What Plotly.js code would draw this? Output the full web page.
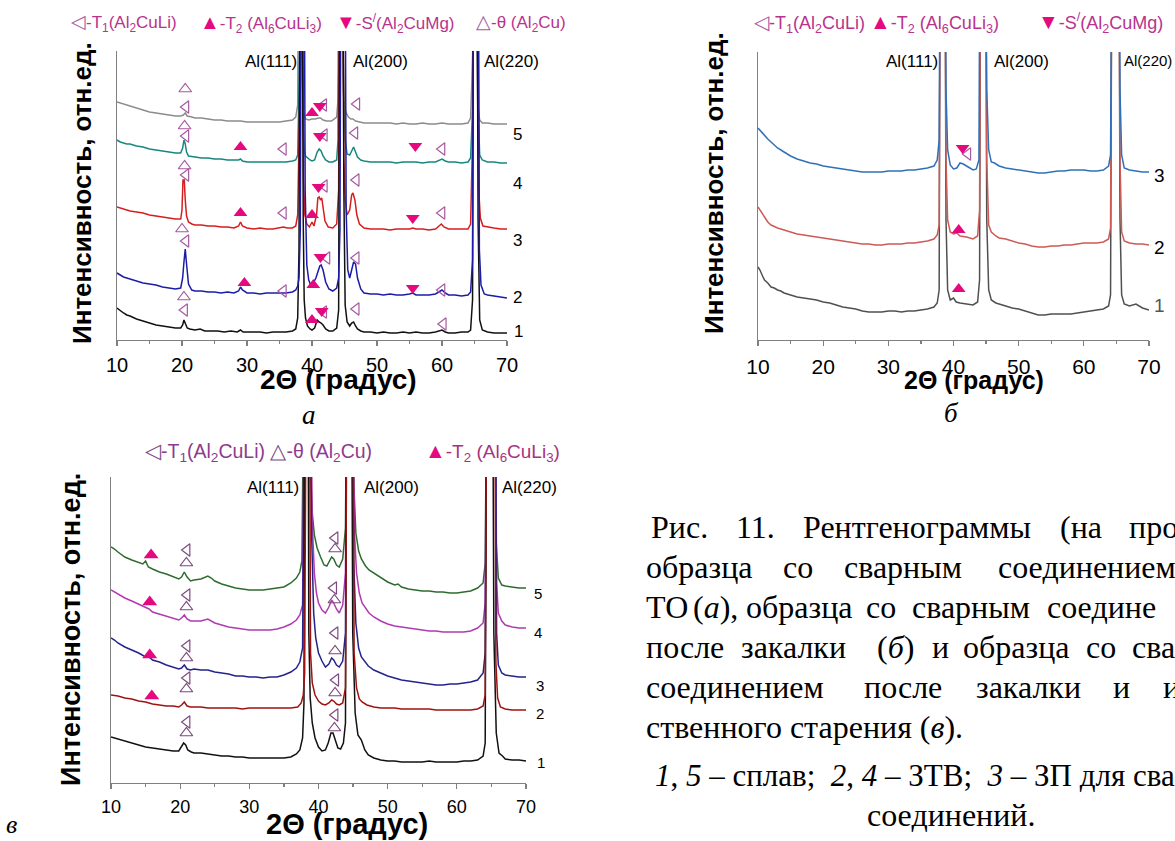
<!DOCTYPE html>
<html><head><meta charset="utf-8">
<script src="https://cdn.plot.ly/plotly-3.0.1.min.js"></script>
<style>html,body{margin:0;padding:0;overflow:hidden;background:#fff}</style>
</head><body><div id="chart" style="width:1175px;height:841px"></div>
<script>
// ---------- DATA (2θ in degrees, intensity in arbitrary offset units) ----------
const xTicks = [10,20,30,40,50,60,70];
const xTickText = ['10','20','30','40','50','60','70'];

// Panel а : curves 1..5
const a_c1 = [[10,32],[10.5,29],[11,27],[11.5,25],[12,24],[13,21],[14,19],[15,17],[16,15],[17,14],[18,13],[19,12],[19.8,12],[20.1,15],[20.3,20],[20.5,16],[20.8,12],[21.2,11],[22,10],[22.8,11],[23.5,9],[24.5,9],[25.5,9],[26.5,8],[27.5,9],[28.5,8],[29.0,10],[29.4,8],[30,8],[31,8],[32,8],[33,7],[34,8],[35,8],[36,8],[37,9],[37.5,11],[37.8,22],[38.0,90],[38.15,400],[38.5,400],[38.65,120],[38.8,40],[39.0,22],[39.3,14],[39.7,11],[40.0,10],[40.4,12],[40.8,20],[41.1,18],[41.4,17],[41.7,15],[42.1,11],[42.6,9],[43.2,9],[43.8,12],[44.1,30],[44.25,400],[44.75,400],[44.9,150],[45.1,35],[45.4,18],[45.8,14],[46.1,17],[46.4,18],[46.7,14],[47.0,11],[47.5,9],[48,8],[49,8],[50,7],[51,8],[52,7],[53,7],[54,8],[55,7],[56,8],[57,7],[58,7],[59,8],[59.6,9],[60.0,10],[60.5,8],[61,7],[62,7],[63,8],[64,8],[64.4,10],[64.7,40],[64.85,400],[65.4,400],[65.55,120],[65.8,20],[66.2,10],[67,8],[68,7],[69,7],[70,7]];
const a_c2 = [[10,67],[10.5,65],[11,63],[11.5,62],[12,61],[13,59],[14,57],[15,56],[16,55],[17,53],[18,52],[19,51],[19.8,52],[20.1,62],[20.3,78],[20.5,91],[20.7,76],[21.0,56],[21.5,50],[22,49],[23,49],[24,48],[25,48],[26,47],[27,48],[28,47],[28.7,49],[29.0,53],[29.3,50],[30,47],[31,47],[32,46],[33,47],[34,47],[35,47],[36,47],[37,48],[37.5,50],[37.8,54],[38.0,62],[38.2,110],[38.35,400],[38.8,400],[38.95,150],[39.2,75],[39.5,60],[39.8,55],[40.2,57],[40.6,62],[40.9,68],[41.2,74],[41.4,75],[41.7,70],[42.1,58],[42.6,51],[43.2,49],[43.8,52],[44.1,62],[44.3,110],[44.45,400],[45.1,400],[45.25,130],[45.5,70],[45.8,62],[46.1,70],[46.4,78],[46.7,76],[47.0,62],[47.5,51],[48,47],[49,46],[50,46],[51,45],[52,46],[53,45],[54,45],[55,46],[55.5,47],[56,45],[57,45],[58,45],[59,46],[59.6,48],[60.0,50],[60.5,47],[61,45],[62,45],[63,44],[64,45],[64.4,48],[64.7,80],[64.85,400],[65.6,400],[65.75,90],[66.0,55],[66.5,46],[67,45],[68,44],[69,43],[70,42]];
const a_c3 = [[10,133],[10.5,132],[11,131],[11.5,130],[12,129],[13,128],[14,127],[15,125],[16,124],[17,123],[18,122],[19,121],[19.8,121],[20.0,130],[20.15,160],[20.35,160],[20.5,140],[20.7,124],[21.0,118],[21.5,116],[22,115],[23,115],[24,114],[25,114],[26,113],[27,113],[28,112],[28.7,114],[29.0,118],[29.3,114],[30,112],[31,111],[32,112],[33,111],[34,111],[35,112],[35.6,113],[36.2,112],[37,112],[37.5,114],[37.8,125],[38.0,200],[38.1,400],[38.55,400],[38.7,160],[38.9,125],[39.2,116],[39.6,113],[40.0,118],[40.3,114],[40.7,125],[40.9,142],[41.1,143],[41.3,140],[41.5,142],[41.7,132],[42.0,119],[42.5,113],[43.2,112],[43.8,116],[44.1,150],[44.2,400],[44.75,400],[44.9,180],[45.1,140],[45.4,125],[45.8,130],[46.1,145],[46.3,147],[46.6,140],[46.9,125],[47.3,116],[48,112],[49,111],[50,111],[51,111],[52,110],[53,111],[54,111],[55,111],[55.5,112],[56,111],[57,111],[58,110],[59,111],[59.6,114],[59.9,116],[60.3,113],[61,111],[62,111],[63,111],[64,111],[64.4,116],[64.7,200],[64.85,400],[65.5,400],[65.65,150],[65.9,122],[66.3,114],[67,113],[68,112],[69,111],[70,111]];
const a_c4 = [[10,200],[10.5,198],[11,197],[11.5,196],[12,196],[13,194],[14,193],[15,191],[16,190],[17,189],[18,188],[19,187],[19.8,187],[20.1,192],[20.3,200],[20.5,196],[20.7,188],[21.0,184],[22,183],[23,182],[24,182],[25,181],[26,181],[27,180],[28,180],[28.7,180],[29.0,181],[29.3,179],[30,178],[31,178],[32,178],[33,178],[34,178],[35,178],[36,178],[37,179],[37.5,180],[37.8,185],[38.0,250],[38.05,400],[38.45,400],[38.6,220],[38.8,190],[39.0,184],[39.3,182],[39.7,180],[40.0,179],[40.4,180],[40.8,188],[41.1,191],[41.4,189],[41.7,184],[42.1,180],[42.6,178],[43.2,178],[43.8,180],[44.0,200],[44.1,400],[44.7,400],[44.85,250],[45.1,200],[45.4,186],[45.8,185],[46.1,190],[46.4,193],[46.7,188],[47.0,183],[47.5,180],[48,179],[49,178],[50,178],[51,178],[52,178],[53,177],[54,178],[55,178],[56,178],[57,177],[58,178],[59,178],[59.6,180],[60.0,181],[60.5,179],[61,178],[62,178],[63,177],[64,178],[64.4,182],[64.7,230],[64.8,400],[65.4,400],[65.55,230],[65.8,185],[66.2,180],[67,178],[68,178],[69,177],[70,177]];
const a_c5 = [[10,238],[10.5,237],[11,236],[11.5,235],[12,234],[13,232],[14,230],[15,228],[16,227],[17,226],[18,225],[19,224],[19.8,224],[20.2,225],[20.5,227],[20.8,224],[21.5,223],[22,222],[23,222],[24,221],[25,220],[26,220],[27,219],[28,219],[29,219],[30,218],[31,218],[32,218],[33,218],[34,218],[35,218],[36,219],[37,220],[37.5,223],[37.8,235],[37.95,400],[38.35,400],[38.5,260],[38.7,228],[39.0,221],[39.5,220],[40,221],[40.5,221],[41,222],[41.3,222],[41.7,220],[42.2,219],[43,219],[43.8,223],[44.0,240],[44.1,400],[44.6,400],[44.75,300],[44.9,240],[45.2,228],[45.6,223],[46.0,221],[46.3,221],[46.7,219],[47.2,218],[48,217],[49,217],[50,217],[51,217],[52,217],[53,216],[54,217],[55,216],[56,216],[57,217],[58,216],[59,216],[60,217],[61,216],[62,216],[63,216],[64,217],[64.4,222],[64.6,260],[64.75,400],[65.2,400],[65.35,300],[65.5,235],[65.8,220],[66.2,217],[67,217],[68,216],[69,216],[70,216]];
// Panel а phase markers
const a_T1 = [[20.6,233],[41.8,235],[46.9,236],[20.6,204],[35.6,191],[41.9,205],[46.6,207],[60.0,191],[20.6,165],[35.6,127],[41.9,154],[46.8,160],[60.0,127],[20.6,99],[35.6,49],[42.3,82],[46.8,82],[60.0,50],[20.4,30],[41.8,28],[46.8,31],[60.2,16]];
const a_T2 = [[40.0,227],[29.0,193],[29.0,127],[40.0,125],[29.6,57],[40.2,55],[40.0,20]];
const a_S = [[41.2,234],[41.2,204],[55.9,194],[41.0,153],[55.5,122],[41.3,83],[55.5,52],[41.5,29]];
const a_Th = [[20.5,251],[20.4,214],[20.4,174],[20.0,111],[20.3,43]];

// Panel б : curves 1..3
const b_c1 = [[10,73],[10.3,70],[10.7,64],[11,60],[11.5,57],[12,53],[12.5,52],[13,50],[13.5,49],[14,47],[15,45],[16,43],[17,42],[18,41],[19,40],[20,38],[21,37],[22,35],[23,33],[24,32],[25,31],[26,29],[27,28],[28,28],[29,28],[30,29],[31,29],[32,28],[33,29],[34,29],[35,30],[36,31],[37,33],[37.5,37],[37.8,50],[37.95,400],[38.7,400],[38.85,120],[39.1,50],[39.5,40],[40,42],[40.4,38],[41,37],[42,36],[43,35],[43.7,38],[44.0,60],[44.15,400],[44.95,400],[45.1,120],[45.4,50],[45.8,40],[46.5,37],[47,36],[48,34],[49,32],[50,31],[51,29],[52,27],[53,25],[54,25],[55,26],[56,26],[57,26],[58,26],[59,27],[60,28],[61,29],[62,30],[63,31],[63.8,34],[64.1,45],[64.3,400],[65.4,400],[65.55,120],[65.8,45],[66.2,36],[67,34],[68,36],[68.5,34],[69,32],[70,30]];
const b_c2 = [[10,133],[10.5,128],[11,122],[11.5,118],[12,115],[13,112],[14,110],[15,108],[16,106],[17,105],[18,104],[19,103],[20,102],[21,101],[22,100],[23,99],[24,98],[25,97],[26,96],[27,96],[28,95],[29,95],[30,96],[31,96],[32,96],[33,97],[34,97],[35,98],[36,99],[37,101],[37.5,105],[37.8,115],[37.95,400],[38.7,400],[38.85,180],[39.1,120],[39.5,108],[40.0,106],[40.5,107],[41,104],[42,103],[43,101],[43.7,104],[44.0,130],[44.15,400],[44.95,400],[45.1,180],[45.4,115],[45.8,108],[46.5,104],[47,102],[48,101],[49,99],[50,97],[51,96],[52,94],[53,93],[54,93],[55,94],[56,94],[57,95],[58,95],[59,96],[60,97],[61,97],[62,97],[63,98],[63.8,101],[64.1,112],[64.3,400],[65.4,400],[65.55,180],[65.8,108],[66.2,99],[67,97],[68,96],[69,96],[70,95]];
const b_c3 = [[10,212],[10.5,208],[11,205],[11.5,201],[12,198],[13,192],[14,188],[15,184],[16,181],[17,179],[18,177],[19,176],[20,174],[21,173],[22,172],[23,171],[24,170],[25,169],[26,168],[27,168],[28,168],[29,168],[30,169],[31,169],[32,169],[33,170],[34,170],[35,171],[36,172],[37,174],[37.5,180],[37.8,200],[37.95,400],[38.7,400],[38.85,250],[39.1,190],[39.5,175],[40.0,171],[40.5,172],[41,177],[41.5,176],[42,174],[42.5,172],[43,170],[43.5,171],[43.9,180],[44.05,400],[44.95,400],[45.1,250],[45.4,190],[45.8,178],[46.3,177],[47,174],[48,172],[49,171],[50,170],[51,169],[52,168],[53,167],[54,167],[55,168],[56,169],[57,169],[58,170],[59,170],[60,170],[61,169],[62,169],[63,170],[63.8,174],[64.1,185],[64.3,400],[65.4,400],[65.55,250],[65.8,185],[66.2,172],[67,170],[68,169],[69,168],[70,168]];
const b_T1 = [[42.2,186]];
const b_T2 = [[40.8,110],[40.8,51]];
const b_S = [[41.4,192]];

// Panel в : curves 1..5
const v_c1 = [[10,46],[10.5,45],[11,44],[12,42],[13,40],[14,38],[15,36],[16,35],[17,34],[18,33],[19,32],[19.8,32],[20.2,36],[20.5,40],[20.8,38],[21.1,33],[21.6,31],[22,30],[23,30],[24,29],[25,28],[26,27],[27,27],[28,26],[29,26],[30,25],[31,25],[32,25],[33,25],[34,25],[35,25],[36,26],[36.8,29],[37.3,33],[37.7,45],[37.9,80],[38.0,400],[38.5,400],[38.6,150],[38.8,85],[39.1,60],[39.5,45],[40.0,36],[40.5,32],[41.0,33],[41.4,40],[41.8,50],[42.1,50],[42.4,43],[42.8,35],[43.2,34],[43.6,40],[43.9,60],[44.05,400],[44.8,400],[44.95,150],[45.3,70],[45.7,48],[46.2,43],[46.7,33],[47.2,28],[48,25],[49,23],[50,22],[51,22],[52,21],[53,21],[54,21],[55,21],[56,22],[57,21],[58,21],[59,21],[60,21],[61,22],[62,22],[63,23],[63.8,27],[64.1,40],[64.3,400],[65.2,400],[65.35,150],[65.7,50],[66.1,30],[66.6,27],[67,24],[68,23],[69,23],[70,22]];
const v_c2 = [[10,88],[11,87],[12,85],[13,84],[14,82],[15,81],[16,79],[17,78],[18,77],[19,77],[19.8,76],[20.2,78],[20.6,81],[21.0,77],[21.5,76],[22,76],[23,76],[24,75],[25,75],[26,75],[27,75],[28,75],[29,74],[30,75],[31,75],[32,75],[33,75],[34,75],[35,75],[36,75],[37,76],[37.5,80],[37.8,88],[38.0,110],[38.2,400],[38.7,400],[38.85,130],[39.1,100],[39.5,88],[40.0,82],[40.5,79],[41.0,78],[41.5,80],[41.9,83],[42.2,82],[42.6,79],[43.0,78],[43.5,80],[43.9,95],[44.1,400],[45.0,400],[45.15,130],[45.5,95],[45.9,84],[46.3,81],[47,78],[48,76],[49,75],[50,75],[51,75],[52,74],[53,74],[54,74],[55,74],[56,74],[57,73],[58,73],[59,73],[60,73],[61,73],[62,73],[63,74],[63.8,77],[64.1,88],[64.3,400],[65.5,400],[65.65,120],[65.9,85],[66.3,76],[67,74],[68,73],[69,73],[70,73]];
const v_c3 = [[10,145],[10.5,143],[11,140],[11.5,138],[12,136],[13,133],[14,130],[15,126],[15.5,126],[16,123],[17,121],[18,118],[19,116],[19.8,114],[20.2,115],[20.6,118],[21.0,114],[21.5,113],[22,114],[23,113],[24,113],[25,111],[26,110],[27,109],[28,107],[29,107],[30,106],[31,106],[32,105],[33,106],[34,106],[35,108],[36,111],[36.8,115],[37.3,121],[37.7,135],[37.95,400],[38.8,400],[39.0,250],[39.3,170],[39.6,145],[40.0,130],[40.5,122],[41.0,116],[41.5,119],[41.9,125],[42.2,123],[42.6,118],[43.0,116],[43.5,122],[43.9,150],[44.05,400],[44.9,400],[45.1,220],[45.4,160],[45.8,135],[46.2,126],[46.7,121],[47.2,117],[48,113],[49,110],[50,107],[51,105],[52,103],[53,102],[54,101],[55,100],[56,99],[57,98],[58,98],[59,99],[60,99],[61,100],[62,101],[63,103],[63.8,110],[64.1,130],[64.3,400],[65.6,400],[65.75,150],[66.0,118],[66.5,110],[67,108],[68,107],[69,106],[70,106]];
const v_c4 = [[10,193],[10.5,191],[11,189],[11.5,187],[12,185],[13,182],[14,179],[15,176],[15.5,174],[16,171],[17,169],[18,167],[19,165],[19.8,163],[20.2,165],[20.6,168],[21.0,164],[21.5,162],[22,162],[23,162],[24,164],[25,160],[26,158],[27,156],[28,155],[29,154],[30,153],[31,153],[32,153],[33,153],[34,154],[35,156],[36,159],[36.8,163],[37.3,168],[37.7,178],[37.95,400],[38.9,400],[39.1,260],[39.4,210],[39.7,190],[40.0,180],[40.5,173],[41.0,170],[41.5,176],[41.9,183],[42.2,180],[42.6,174],[43.0,170],[43.5,178],[43.9,210],[44.05,400],[45.0,400],[45.2,250],[45.5,210],[45.9,190],[46.3,180],[46.8,175],[47.3,170],[48,166],[49,162],[50,159],[51,157],[52,156],[53,155],[54,154],[55,153],[56,152],[57,152],[58,151],[59,151],[60,151],[61,151],[62,152],[63,155],[63.8,160],[64.1,180],[64.3,400],[65.6,400],[65.75,200],[66.0,170],[66.5,162],[67,158],[68,156],[69,155],[70,155]];
const v_c5 = [[10,236],[10.5,234],[11,231],[11.5,228],[12,226],[13,223],[14,220],[14.6,219],[15.0,222],[15.4,216],[16,214],[17,211],[18,209],[19,206],[19.8,204],[20.2,206],[20.6,211],[21.0,206],[21.5,202],[22,203],[23,204],[24,207],[24.5,205],[25,202],[26,199],[27,197],[28,195],[29,194],[30,193],[31,193],[32,193],[33,194],[34,195],[35,196],[36,200],[36.8,205],[37.3,211],[37.6,222],[37.85,400],[38.6,400],[38.8,320],[39.1,270],[39.4,248],[39.8,235],[40.3,226],[40.8,218],[41.2,217],[41.6,222],[41.9,226],[42.2,224],[42.6,218],[43.0,216],[43.5,224],[43.9,255],[44.05,400],[44.9,400],[45.1,300],[45.4,250],[45.8,232],[46.2,224],[46.8,217],[47.3,213],[48,210],[49,205],[50,201],[51,198],[51.5,199],[52,196],[53,194],[54,193],[55,192],[56,192],[57,191],[58,191],[59,190],[60,190],[61,191],[62,192],[63,195],[63.8,200],[64.1,220],[64.3,400],[65.5,400],[65.7,240],[66.0,205],[66.5,198],[67,197],[68,196],[69,195],[70,195]];
const v_T1 = [[21.0,233],[42.4,245],[21.0,188],[42.2,195],[21.0,137],[42.4,150],[21.0,105],[42.5,103],[21.0,61],[42.4,68]];
const v_Th = [[20.9,220],[42.4,234],[20.9,176],[42.3,183],[20.9,125],[42.4,132],[20.9,94],[42.4,90],[20.9,50],[42.3,55]];
const v_T2 = [[15.8,228],[15.6,181],[15.6,128],[15.9,87]];

// ---------- RENDERING ----------
const W = 1175, H = 841;
const SANS = 'Liberation Sans, Arial, sans-serif';
const SERIF = 'Liberation Serif, Times New Roman, serif';
const MAG = '#e5097f', OPEN_A = '#a65aa0', OPEN_V = '#7d4a7f';

function line(pts, color, ax){
  return {type:'scatter', mode:'lines', x:pts.map(p=>p[0]), y:pts.map(p=>p[1]),
    xaxis:'x'+ax, yaxis:'y'+ax, line:{color:color, width:1.5}, hoverinfo:'skip', showlegend:false};
}
function marks(pts, symbol, color, ax, size){
  const open = symbol.indexOf('open')>=0;
  return {type:'scatter', mode:'markers', x:pts.map(p=>p[0]), y:pts.map(p=>p[1]),
    xaxis:'x'+ax, yaxis:'y'+ax, cliponaxis:false, hoverinfo:'skip', showlegend:false,
    marker:{symbol:symbol, size:size, color:color, line:{color:color, width: open?1.2:0}}};
}
const traces = [
  line(a_c5,'#8c8c8c',''), line(a_c4,'#17877f',''), line(a_c3,'#d61e1e',''), line(a_c1,'#111111',''), line(a_c2,'#1c1ca8',''),
  marks(a_T1,'triangle-left-open',OPEN_A,'',11), marks(a_Th,'triangle-up-open',OPEN_A,'',11),
  marks(a_T2,'triangle-up',MAG,'',12), marks(a_S,'triangle-down',MAG,'',12),
  line(b_c1,'#505050','2'), line(b_c2,'#cc5a55','2'), line(b_c3,'#2f70b8','2'),
  marks(b_T1,'triangle-left-open',OPEN_A,'2',11), marks(b_T2,'triangle-up',MAG,'2',12), marks(b_S,'triangle-down',MAG,'2',12),
  line(v_c5,'#2e6b2e','3'), line(v_c4,'#b03ab0','3'), line(v_c3,'#23238c','3'), line(v_c1,'#111111','3'), line(v_c2,'#a01212','3'),
  marks(v_T1,'triangle-left-open',OPEN_V,'3',11), marks(v_Th,'triangle-up-open',OPEN_V,'3',11), marks(v_T2,'triangle-up',MAG,'3',13)
];

function xax(l, r, anchor, tsize){
  return {domain:[l/W, r/W], anchor:anchor, range:[10,70], showline:true, linecolor:'#808080', linewidth:1.3,
    ticks:'outside', ticklen:5, tickwidth:1.3, tickcolor:'#808080', tickmode:'array', tickvals:xTicks, ticktext:xTickText,
    tickfont:{family:SANS, size:tsize, color:'#000'}, ticklabelstandoff:2, showgrid:false, zeroline:false, fixedrange:true,
    minor:{tick0:5, dtick:5, ticks:'outside', ticklen:3, tickwidth:1.2, tickcolor:'#808080', showgrid:false}};
}
function yax(top, bottom, anchor, maxv){
  return {domain:[1-bottom/H, 1-top/H], anchor:anchor, range:[0,maxv], showline:true, linecolor:'#808080', linewidth:1.3,
    ticks:'', showticklabels:false, showgrid:false, zeroline:false, fixedrange:true};
}

function A(text, x, y, o){
  o = o || {};
  return {text:text, x:x/W, y:1-y/H, xref:'paper', yref:'paper', showarrow:false,
    xanchor:o.xa||'center', yanchor:o.ya||'middle', textangle:o.rot||0,
    font:{family:o.f||SANS, size:o.s||16, color:o.c||'#000'}};
}
const sp = (c, t, fs) => '<span style="color:'+c+(fs?';font-size:'+fs+'px':'')+'">'+t+'</span>';
const LEGC = '#b8338c', LEGV = '#8e3a8e';
const T1 = '-T<sub>1</sub>(Al<sub>2</sub>CuLi)';
const T2 = '-T<sub>2</sub> (Al<sub>6</sub>CuLi<sub>3</sub>)';
const SS = '-S<sup>/</sup>(Al<sub>2</sub>CuMg)';
const TH = '-θ (Al<sub>2</sub>Cu)';
const YT = '<b>Интенсивность, отн.ед.</b>';
const XT = '<b>2Θ (градус)</b>';
function cap(text, x, base, s){ return A(text, x, base-10, {f:SERIF, s:s||32, xa:'left'}); }

const annotations = [
  // panel а
  A(sp(OPEN_A,'◁',19)+T1, 69, 23, {xa:'left', s:17, c:LEGC}),
  A(sp(MAG,'▲',20)+T2, 198, 23, {xa:'left', s:17, c:LEGC}),
  A(sp(MAG,'▼',20)+SS, 334, 23, {xa:'left', s:17, c:LEGC}),
  A(sp(OPEN_A,'△',19)+TH, 474, 23, {xa:'left', s:17, c:LEGC}),
  A('Al(111)', 271, 62, {s:17}), A('Al(200)', 380, 62, {s:17}), A('Al(220)', 511, 62, {s:17}),
  A('5', 517, 135, {s:17}), A('4', 517, 183, {s:17}), A('3', 517, 240, {s:17}), A('2', 517, 297, {s:17}), A('1', 518, 332, {s:17}),
  A(YT, 82, 193, {s:26, rot:-90}), A(XT, 338, 379, {s:28}),
  A('<i>а</i>', 309, 415, {f:SERIF, s:27}),
  // panel б
  A(sp(OPEN_A,'◁',20)+T1+' '+sp(MAG,'▲',21)+T2, 752, 23, {xa:'left', s:18, c:LEGC}),
  A(sp(MAG,'▼',21)+SS, 1036, 23, {xa:'left', s:18, c:LEGC}),
  A('Al(111)', 912, 62, {s:17}), A('Al(200)', 1021, 62, {s:17}), A('Al(220)', 1148, 60, {s:15}),
  A('3', 1159, 175, {s:19}), A('2', 1159, 247, {s:19}), A('1', 1159, 305, {s:19, c:'#555'}),
  A(YT, 714, 183, {s:26, rot:-90}), A(XT, 974, 380, {s:25}),
  A('<i>б</i>', 951, 413, {f:SERIF, s:27}),
  // panel в
  A(sp(OPEN_V,'◁',21)+T1+' '+sp(OPEN_V,'△',21)+TH, 143, 452, {xa:'left', s:19.5, c:LEGV}),
  A(sp(MAG,'▲',21)+T2, 423, 452, {xa:'left', s:19, c:'#a8327f'}),
  A('Al(111)', 273, 487, {s:17}), A('Al(200)', 391, 487, {s:17}), A('Al(220)', 529, 487, {s:17}),
  A('5', 538, 593, {s:15}), A('4', 538, 632, {s:15}), A('3', 540, 685, {s:15}), A('2', 540, 713, {s:15}), A('1', 541, 762, {s:15}),
  A(YT, 71, 630, {s:27, rot:-90}), A(XT, 347, 824, {s:29}),
  A('<i>в</i>', 4, 824, {f:SERIF, s:26, xa:'left'}),
  // caption
  cap('Рис.', 649, 537), cap('11.', 734, 537), cap('Рентгенограммы', 801, 537), cap('(на', 1058, 537), cap('про', 1127, 537),
  cap('образца', 644, 577), cap('со', 781, 577), cap('сварным', 842, 577), cap('соединением', 996, 577),
  cap('ТО', 644, 617), cap('(<i>а</i>),', 691, 617), cap('образца', 744, 617), cap('со', 864, 617), cap('сварным', 910, 617), cap('соедине', 1045, 617),
  cap('после', 644, 657), cap('закалки', 739, 657), cap('(<i>б</i>)', 875, 657), cap('и', 930, 657), cap('образца', 961, 657), cap('со', 1084, 657), cap('сва', 1130, 657),
  cap('соединением', 644, 697), cap('после', 862, 697), cap('закалки', 974, 697), cap('и', 1111, 697), cap('и', 1161, 697),
  cap('ственного старения (<i>в</i>).', 644, 737),
  cap('<i>1</i>, <i>5</i> – сплав;\u00a0 <i>2</i>, <i>4</i> – ЗТВ;\u00a0 <i>3</i> – ЗП для сва', 653, 785, 31),
  A('соединений.', 951, 815, {f:SERIF, s:32})
];

const layout = {
  width:W, height:H, autosize:false, margin:{l:0,r:0,t:0,b:0,pad:0},
  paper_bgcolor:'#fff', plot_bgcolor:'rgba(0,0,0,0)', showlegend:false,
  font:{family:SANS, color:'#000'},
  xaxis: xax(117, 507, 'y', 20),
  yaxis: yax(51, 340, 'x', 289),
  xaxis2: xax(758, 1149, 'y2', 21),
  yaxis2: yax(52, 340, 'x2', 288),
  xaxis3: xax(111, 526, 'y3', 18),
  yaxis3: yax(477, 783, 'x3', 306),
  annotations: annotations
};
Plotly.newPlot('chart', traces, layout, {staticPlot:true, displayModeBar:false});
</script></body></html>
